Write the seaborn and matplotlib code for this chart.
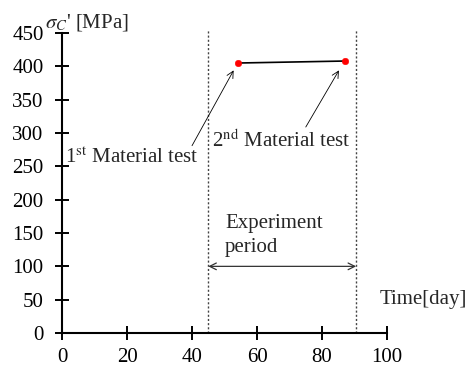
import matplotlib
matplotlib.use("Agg")
import matplotlib.pyplot as plt
import seaborn as sns
import pandas as pd

# Material test results
test_days = [54, 87]
strength_mpa = [405, 408]
labels = ["1st", "2nd"]

# Experiment period boundaries [day]
period_start = 45
period_end = 90.5

x_ticks = [0, 20, 40, 60, 80, 100]
y_ticks = [0, 50, 100, 150, 200, 250, 300, 350, 400, 450]

sns.set_theme(style="ticks")
plt.rcParams["font.family"] = ["Liberation Serif", "DejaVu Serif"]
plt.rcParams["mathtext.fontset"] = "stix"

FS = 15

df = pd.DataFrame({"day": test_days, "strength": strength_mpa, "test": labels})

fig = plt.figure(figsize=(4.68, 3.67), dpi=100)
ax = fig.add_axes([0.1325, 0.0926, 0.6945, 0.8174])

sns.lineplot(data=df, x="day", y="strength", color="black", lw=1.2, ax=ax)
sns.scatterplot(data=df, x="day", y="strength", color="red", s=22,
                edgecolor="red", zorder=5, ax=ax)

for xv in (period_start, period_end):
    ax.plot([xv, xv], [0, 455], color="#444444", lw=1.0, ls=(0, (1.5, 1.5)),
            clip_on=False)

ax.annotate("", xy=(period_start, 100), xytext=(period_end, 100),
            arrowprops=dict(arrowstyle="<->", color="#333333", lw=0.9,
                            shrinkA=0, shrinkB=0))
ax.text(50.2, 121, "Experiment\nperiod", fontsize=FS, ha="left",
        va="baseline", linespacing=1.4)

ax.text(0.9, 255, r"1$^{\rm st}$ Material test", fontsize=FS, ha="left",
        va="baseline")
ax.text(46.2, 279, r"2$^{\rm nd}$ Material test", fontsize=FS, ha="left",
        va="baseline")
ax.annotate("", xy=(52.8, 394), xytext=(40, 281),
            arrowprops=dict(arrowstyle="->", color="black", lw=0.6,
                            shrinkA=0, shrinkB=0))
ax.annotate("", xy=(85.2, 394), xytext=(75, 309),
            arrowprops=dict(arrowstyle="->", color="black", lw=0.6,
                            shrinkA=0, shrinkB=0))

ax.text(97.8, 51, "Time[day]", fontsize=FS, ha="left", va="center",
        clip_on=False)
ax.text(-5.3, 466, r"$\sigma_C$' [MPa]", fontsize=FS, ha="left", va="center",
        clip_on=False)

ax.set_xlim(0, 100)
ax.set_ylim(0, 450)
ax.set_xticks(x_ticks)
ax.set_yticks(y_ticks)
ax.set_xlabel("")
ax.set_ylabel("")
ax.tick_params(direction="inout", length=9.4, width=1.4, labelsize=FS,
               color="black", labelcolor="black")
ax.tick_params(axis="y", pad=8.5)
ax.tick_params(axis="x", pad=6)
sns.despine(ax=ax)
for side in ("left", "bottom"):
    ax.spines[side].set_linewidth(1.5)
    ax.spines[side].set_color("black")

fig.savefig("out.png", dpi=100)
